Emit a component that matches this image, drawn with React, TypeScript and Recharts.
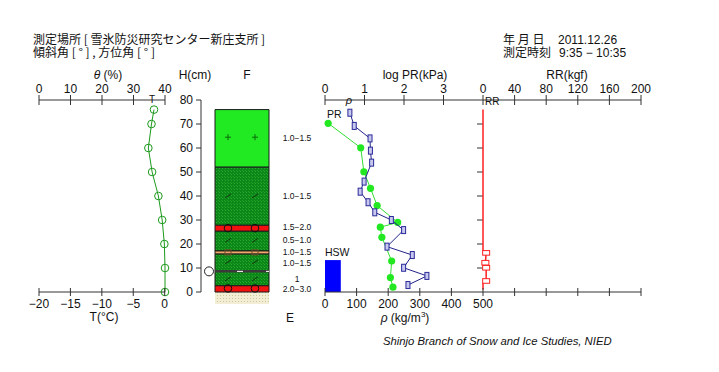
import { ComposedChart, XAxis, YAxis, Scatter, ReferenceArea, ReferenceLine } from "recharts";

const FONT = "'Liberation Sans', Arial, sans-serif";
const JP = "'Noto Sans CJK JP', sans-serif";
const AXIS = "#333";
const TXT = "#111";

// --- temperature profile ---
const tempHeights = [76, 70, 60, 50, 40, 30, 20, 10, 0];
const tempValues = [-1.7, -2.1, -2.6, -2.0, -1.0, -0.4, -0.05, 0.05, 0.05];
const tempTicks = [-20, -15, -10, -5, 0];
const thetaTicks = [0, 10, 20, 30, 40];
const heightTicks = [0, 10, 20, 30, 40, 50, 60, 70, 80];

// --- snow layers ---
const layerTops = [76, 52, 27.8, 25.3, 17.1, 15.8, 2.6];
const layerBottoms = [52, 27.8, 25.3, 17.1, 15.8, 2.6, 0];
const layerKinds = ["new", "compact", "melt", "compact", "facet", "compact", "melt"];
const crustHeights = [8.6];
const groundBottom = -5;
const wetHeights = [8.6];

const grainHeights = [64.5, 40, 26.6, 21.5, 16.5, 12.5, 5.5, 1.5];
const grainShapes = ["+", "/", "o", "/", "sq", "/", "/", "o"];
const hardnessHeights = [64.2, 40, 27.1, 21.6, 16.6, 12.2, 5.6, 1.4];
const hardnessLabels = ["1.0−1.5", "1.0−1.5", "1.5−2.0", "0.5−1.0", "1.0−1.5", "1.0−1.5", "1", "2.0−3.0"];

// --- density ---
const densityHeights = [70.3, 60.1, 50.1, 43.2, 36, 29, 27, 22.8, 12.9, 6, 2];
const densityValues = [10, 113, 123, 144, 165, 230, 175, 180, 211, 207, 215];
const rhoTicks = [0, 100, 200, 300, 400, 500, 600, 700, 800, 900, 1000];
const rhoLabels = [0, 100, 200, 300, 400, 500];
const hswHeight = 13.3;
const hswValue = 50;

// --- log PR ---
const prHeights = [74.7, 69.2, 64, 58.9, 53.9, 46, 41.8, 37.4, 33.2, 30, 25.8, 18.9, 15.4, 10.1, 6.7, 2.9];
const prValues = [0.63, 0.74, 1.14, 1.15, 1.18, 0.99, 0.89, 1.09, 1.26, 1.68, 1.99, 1.57, 2.21, 1.99, 2.58, 2.1];
const prTicks = [0, 1, 2, 3];

// --- RR ---
const rrTicks = [0, 40, 80, 120, 160, 200];
const rrHeights = [76, 17.4, 16.3, 12.2, 10.1, 4.6, 3.6, 1];
const rrValues = [0, 0, 4, 3, 4, 4, 0, 0];
const rrBoxHeights = [16.3, 12.2, 10.1, 4.6];
const rrBoxValues = [4, 3, 4, 4];
const rrGuideTicks = [10, 20, 30, 40, 50, 60, 70];

const tempData = tempHeights.map((h, i) => ({ x: tempValues[i], y: h }));
const densityData = densityHeights.map((h, i) => ({ x: densityValues[i], y: h }));
const prData = prHeights.map((h, i) => ({ x: prValues[i], y: h }));
const rrData = rrHeights.map((h, i) => ({ x: rrValues[i], y: h }));
const rrBoxData = rrBoxHeights.map((h, i) => ({ x: rrBoxValues[i], y: h }));
const grainData = grainHeights.flatMap((h, i) => [
  { x: 27, y: h, kind: grainShapes[i] },
  { x: 54, y: h, kind: grainShapes[i] },
]);
const hardnessData = hardnessHeights.map((h, i) => ({ x: 96, y: h, label: hardnessLabels[i] }));
const wetData = wetHeights.map((h) => ({ x: 8, y: h }));
const guideData = rrGuideTicks.map((h) => ({ x: 500, y: h }));

// top axis of the right panel: log PR 0..4 then RR 0..200 on the same pixel scale
const topPanelTicks = [...prTicks, ...rrTicks.map((r) => 4 + r / 50)];
const topPanelLabel = (v: number) => (v < 3.5 ? String(v) : String(Math.round((v - 4) * 50)));

const layerFill: Record<string, string> = {
  new: "#22ea22",
  compact: "url(#dkgreen)",
  melt: "#f41010",
  facet: "#f2a86a",
};

function crossTick(side: "top" | "bottom", label: (v: number) => string | null = (v) => String(v)) {
  return (props: any) => {
    const { x, y, payload } = props;
    const text = label(payload.value);
    const up = side === "top" ? 5 : 4;
    return (
      <g>
        <line x1={x} x2={x} y1={y - up} y2={y + up} stroke={AXIS} strokeWidth={1} />
        {text !== null && (
          <text x={x} y={side === "top" ? y - 7 : y + 16} textAnchor="middle" fontSize={12} fontFamily={FONT} fill={TXT}>
            {text.replace("-", "−")}
          </text>
        )}
      </g>
    );
  };
}

const hollowCircle = (p: any) => <circle cx={p.cx} cy={p.cy} r={3.8} fill="none" stroke="#1c9a1c" strokeWidth={1} />;
const filledCircle = (p: any) => <circle cx={p.cx} cy={p.cy} r={3.6} fill="#22e822" />;
const prBox = (p: any) => <rect x={p.cx - 2} y={p.cy - 3.5} width={4} height={7} fill="#c8c8ee" stroke="#2a2a99" strokeWidth={1} />;
const rrBox = (p: any) => <rect x={p.cx - 3.5} y={p.cy - 2.3} width={7} height={4.6} fill="#fff" stroke="#f22" strokeWidth={1} />;
const noDot = () => <g />;
const guideTick = (p: any) => <line x1={p.cx - 6} x2={p.cx} y1={p.cy} y2={p.cy} stroke={AXIS} />;

const grainShape = (p: any) => {
  const { cx, cy, payload } = p;
  switch (payload.kind) {
    case "+":
      return (
        <g stroke="#0a6a0a" strokeWidth={1}>
          <line x1={cx - 3} x2={cx + 3} y1={cy} y2={cy} />
          <line x1={cx} x2={cx} y1={cy - 3} y2={cy + 3} />
        </g>
      );
    case "/":
      return <line x1={cx - 3} y1={cy + 2} x2={cx + 3} y2={cy - 2} stroke="#123812" strokeWidth={1} />;
    case "o":
      return <circle cx={cx} cy={cy} r={3.8} fill="none" stroke="#111" strokeWidth={1} />;
    default:
      return <rect x={cx - 3} y={cy - 2.5} width={6} height={5} fill="none" stroke="#6a4a2a" strokeWidth={1} />;
  }
};

const hardnessText = (p: any) => (
  <text x={p.cx} y={p.cy + 3} textAnchor="middle" fontSize={8.5} fontFamily={FONT} fill={TXT}>
    {p.payload.label}
  </text>
);
const wetMark = (p: any) => <circle cx={p.cx} cy={p.cy} r={4.5} fill="#fff" stroke="#222" strokeWidth={1} />;

const abs = (left: number): React.CSSProperties => ({ position: "absolute", left, top: 0 });

function TemperaturePanel() {
  return (
    <div style={abs(0)}>
      <ComposedChart width={210} height={372} margin={{ top: 80, right: 45, bottom: 60, left: 39 }}>
        <XAxis xAxisId="t" dataKey="x" type="number" domain={[-20, 0]} ticks={tempTicks} orientation="bottom" height={20}
          tickSize={0} tickMargin={0} tickLine={false} interval={0} tick={crossTick("bottom")} axisLine={{ stroke: AXIS }} />
        <XAxis xAxisId="theta" dataKey="x" type="number" domain={[0, 40]} allowDataOverflow ticks={thetaTicks} orientation="top" height={20}
          tickSize={0} tickMargin={0} tickLine={false} interval={0} tick={crossTick("top")} axisLine={{ stroke: AXIS }} />
        <YAxis yAxisId="h" dataKey="y" type="number" domain={[0, 80]} hide />
        <Scatter xAxisId="t" yAxisId="h" data={tempData} shape={hollowCircle} line={{ stroke: "#1c9a1c", strokeWidth: 1 }} isAnimationActive={false} />
      </ComposedChart>
    </div>
  );
}

function LayerPanel() {
  return (
    <div style={abs(0)}>
      <ComposedChart width={330} height={372} margin={{ top: 100, right: 0, bottom: 80, left: 171 }}>
        <defs>
          <pattern id="dkgreen" width={3} height={3} patternUnits="userSpaceOnUse">
            <rect width={3} height={3} fill="#0b8618" />
            <rect x={0} y={0} width={1} height={1} fill="#2ca82c" />
            <rect x={2} y={2} width={1} height={1} fill="#22a022" />
          </pattern>
          <pattern id="ground" width={3} height={3} patternUnits="userSpaceOnUse">
            <rect width={3} height={3} fill="#f2eed6" />
            <rect x={1} y={1} width={1} height={1} fill="#cfc69a" />
          </pattern>
        </defs>
        <XAxis xAxisId="c" dataKey="x" type="number" domain={[0, 129]} hide />
        <YAxis yAxisId="h" dataKey="y" type="number" domain={[0, 80]} ticks={heightTicks} width={30} interval={0}
          tickSize={5} tickMargin={3} tick={{ fontSize: 12, fill: TXT, fontFamily: FONT }}
          tickLine={{ stroke: AXIS }} axisLine={{ stroke: AXIS }} />
        <ReferenceArea xAxisId="c" yAxisId="h" x1={14} x2={68} y1={groundBottom} y2={0} fill="url(#ground)" fillOpacity={1} stroke="none" ifOverflow="visible" />
        {layerTops.map((top, i) => (
          <ReferenceArea key={i} xAxisId="c" yAxisId="h" x1={14} x2={68} y1={layerBottoms[i]} y2={top}
            fill={layerFill[layerKinds[i]]} fillOpacity={1} stroke="#1a1a1a" strokeWidth={1} ifOverflow="visible" />
        ))}
        {crustHeights.map((h, i) => (
          <ReferenceLine key={"c" + i} xAxisId="c" yAxisId="h" segment={[{ x: 14, y: h }, { x: 68, y: h }]} stroke="#3a3a3a" strokeWidth={2.5} />
        ))}
        {crustHeights.map((h, i) => (
          <ReferenceLine key={"w" + i} xAxisId="c" yAxisId="h" segment={[{ x: 14, y: h }, { x: 68, y: h }]} stroke="#ffffff" strokeWidth={1} strokeDasharray="0 22 6 23 3 100" />
        ))}
        <Scatter xAxisId="c" yAxisId="h" data={grainData} shape={grainShape} isAnimationActive={false} />
        <Scatter xAxisId="c" yAxisId="h" data={hardnessData} shape={hardnessText} isAnimationActive={false} />
        <Scatter xAxisId="c" yAxisId="h" data={wetData} shape={wetMark} isAnimationActive={false} />
      </ComposedChart>
    </div>
  );
}

function ProfilePanel() {
  return (
    <div style={abs(0)}>
      <ComposedChart width={719} height={372} margin={{ top: 80, right: 78, bottom: 60, left: 325 }}>
        <XAxis xAxisId="rho" dataKey="x" type="number" domain={[0, 1000]} ticks={rhoTicks} orientation="bottom" height={20}
          tickSize={0} tickMargin={0} tickLine={false} interval={0}
          tick={crossTick("bottom", (v) => (rhoLabels.includes(v) ? String(v) : null))} axisLine={{ stroke: AXIS }} />
        <XAxis xAxisId="top" dataKey="x" type="number" domain={[0, 8]} ticks={topPanelTicks} orientation="top" height={20}
          tickSize={0} tickMargin={0} tickLine={false} interval={0} tick={crossTick("top", topPanelLabel)} axisLine={{ stroke: AXIS }} />
        <XAxis xAxisId="rr" dataKey="x" type="number" domain={[-200, 200]} hide />
        <YAxis yAxisId="h" dataKey="y" type="number" domain={[0, 80]} hide />
        <ReferenceArea xAxisId="rho" yAxisId="h" x1={0} x2={hswValue} y1={0} y2={hswHeight} fill="#0000ff" fillOpacity={1} stroke="none" />
        <Scatter xAxisId="rho" yAxisId="h" data={guideData} shape={guideTick} isAnimationActive={false} />
        <Scatter xAxisId="rr" yAxisId="h" data={rrData} shape={noDot} line={{ stroke: "#ff2020", strokeWidth: 1.5 }} isAnimationActive={false} />
        <Scatter xAxisId="rr" yAxisId="h" data={rrBoxData} shape={rrBox} isAnimationActive={false} />
        <Scatter xAxisId="rho" yAxisId="h" data={densityData} shape={filledCircle} line={{ stroke: "#33dd33", strokeWidth: 1 }} isAnimationActive={false} />
        <Scatter xAxisId="top" yAxisId="h" data={prData} shape={prBox} line={{ stroke: "#22228a", strokeWidth: 1 }} isAnimationActive={false} />
      </ComposedChart>
    </div>
  );
}

function Labels() {
  const t = { fontFamily: FONT, fill: TXT } as const;
  return (
    <svg width={719} height={372} style={{ position: "absolute", left: 0, top: 0, pointerEvents: "none" }}>
      <g fontFamily={JP} fontSize={12} fill={TXT}>
        <text x={33} y={44}>測定場所 [ 雪氷防災研究センター新庄支所 ]</text>
        <text x={33} y={57}>傾斜角 [ ° ] , 方位角 [ ° ]</text>
        <text x={503} y={44}>年 月 日</text>
        <text x={503} y={57}>測定時刻</text>
      </g>
      <text x={558} y={44} fontSize={12} {...t}>2011.12.26</text>
      <text x={559} y={57} fontSize={12} {...t}>9:35 − 10:35</text>
      <text x={108} y={79} fontSize={12} textAnchor="middle" {...t}>
        <tspan fontStyle="italic">θ</tspan> (%)
      </text>
      <text x={195} y={79} fontSize={12} textAnchor="middle" {...t}>H(cm)</text>
      <text x={247} y={79} fontSize={12} textAnchor="middle" {...t}>F</text>
      <text x={415} y={79} fontSize={12} textAnchor="middle" {...t}>log PR(kPa)</text>
      <text x={567} y={79} fontSize={12} textAnchor="middle" {...t}>RR(kgf)</text>
      <text x={152} y={103} fontSize={10} textAnchor="middle" {...t}>T</text>
      <text x={349} y={104} fontSize={11} fontStyle="italic" textAnchor="middle" {...t}>ρ</text>
      <text x={485} y={105} fontSize={10} {...t}>RR</text>
      <text x={327} y={118} fontSize={10.5} {...t}>PR</text>
      <text x={325} y={256} fontSize={10.5} {...t}>HSW</text>
      <text x={104} y={321} fontSize={12} textAnchor="middle" {...t}>T(°C)</text>
      <text x={290} y={322} fontSize={12} textAnchor="middle" {...t}>E</text>
      <text x={405} y={322} fontSize={12} textAnchor="middle" {...t}>
        <tspan fontStyle="italic">ρ</tspan> (kg/m<tspan fontSize={8} dy={-5}>3</tspan><tspan dy={5}>)</tspan>
      </text>
      <text x={383} y={345} fontSize={11.3} fontStyle="italic" {...t}>Shinjo Branch of Snow and Ice Studies, NIED</text>
    </svg>
  );
}

export default function App() {
  return (
    <div style={{ position: "absolute", left: 0, top: 0, width: 719, height: 372, background: "#fff", overflow: "hidden" }}>
      <TemperaturePanel />
      <LayerPanel />
      <ProfilePanel />
      <Labels />
    </div>
  );
}
